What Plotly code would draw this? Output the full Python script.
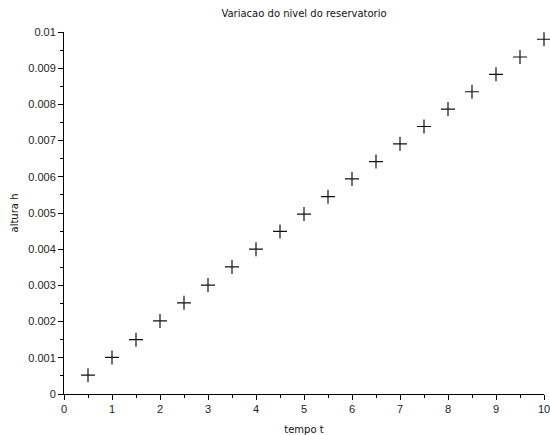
import plotly.graph_objects as go

tempo = [0.5, 1, 1.5, 2, 2.5, 3, 3.5, 4, 4.5, 5, 5.5, 6, 6.5, 7, 7.5, 8, 8.5, 9, 9.5, 10]
altura = [0.00052, 0.00101, 0.0015, 0.00202, 0.00252, 0.00301, 0.00351, 0.0040, 0.00449,
          0.00497, 0.00545, 0.00594, 0.00642, 0.00691, 0.00739, 0.00787, 0.00835, 0.00883,
          0.00931, 0.0098]
x_ticks = [0, 1, 2, 3, 4, 5, 6, 7, 8, 9, 10]
y_ticks = [0, 0.001, 0.002, 0.003, 0.004, 0.005, 0.006, 0.007, 0.008, 0.009, 0.01]
y_labels = ["0", "0.001", "0.002", "0.003", "0.004", "0.005", "0.006", "0.007", "0.008", "0.009", "0.01"]

fig = go.Figure()
fig.add_trace(go.Scatter(
    x=tempo, y=altura, mode="markers",
    marker=dict(symbol="cross-thin", size=10, color="black", line=dict(width=1.2, color="#111")),
    showlegend=False, cliponaxis=False,
))

axis_font = dict(family="Liberation Sans, Arial, sans-serif", size=11, color="#222")
label_font = dict(family="DejaVu Sans, sans-serif", size=10, color="#111")
fig.update_layout(
    width=550, height=435,
    margin=dict(l=64, r=6, t=32, b=41, autoexpand=False),
    paper_bgcolor="white", plot_bgcolor="white",
    title=dict(text="Variacao do nivel do reservatorio",
               font=dict(family="DejaVu Sans, sans-serif", size=10, color="#111"),
               xref="container", x=304/550, xanchor="center",
               yref="container", y=1-13/435, yanchor="middle"),
    xaxis=dict(range=[0, 10], tickvals=x_ticks, ticktext=[str(v) for v in x_ticks],
               showgrid=False, zeroline=False, showline=True, linecolor="black", linewidth=1,
               ticks="outside", ticklen=5, tickcolor="black", tickwidth=1,
               ticklabeloverflow="allow",
               minor=dict(dtick=0.5, ticks="outside", ticklen=3, tickcolor="black", tickwidth=1, showgrid=False),
               tickfont=axis_font,
               title=dict(text="tempo t", font=label_font, standoff=16)),
    yaxis=dict(range=[0, 0.01], tickvals=y_ticks, ticktext=y_labels,
               showgrid=False, zeroline=False, showline=True, linecolor="black", linewidth=1,
               ticks="outside", ticklen=5, tickcolor="black", tickwidth=1,
               ticklabeloverflow="allow",
               minor=dict(dtick=0.0005, ticks="outside", ticklen=3, tickcolor="black", tickwidth=1, showgrid=False),
               tickfont=axis_font,
               title=dict(text="altura h", font=label_font, standoff=7)),
)

fig.write_html("out.html", config={"displayModeBar": False},
               post_script="document.body.style.margin='0';")
